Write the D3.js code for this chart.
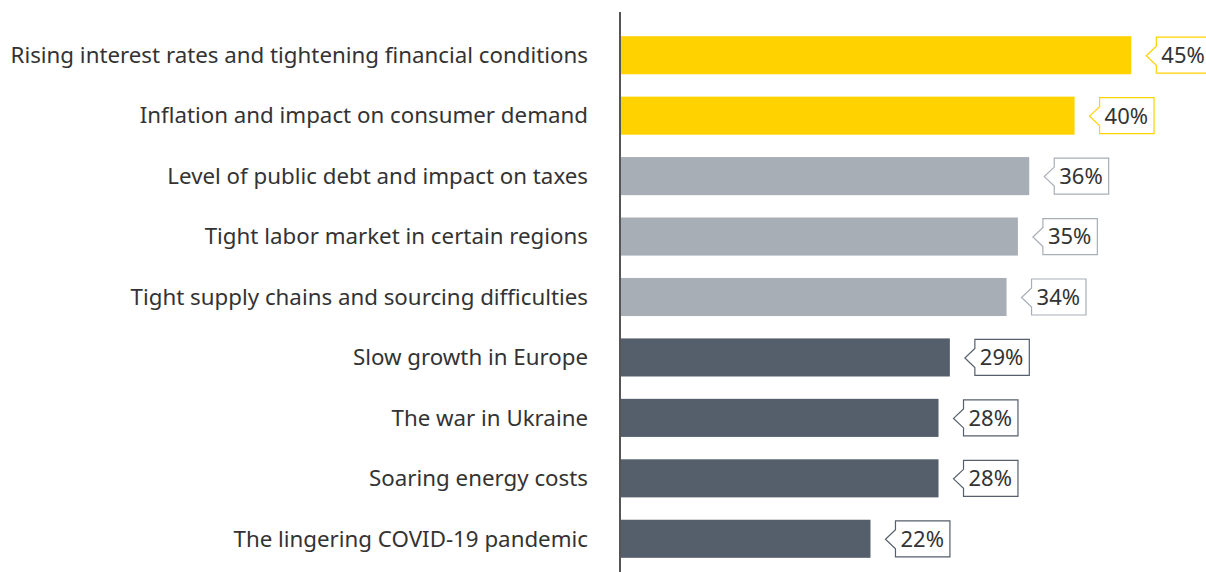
<!DOCTYPE html>
<html>
<head>
<meta charset="utf-8">
<script src="https://cdn.jsdelivr.net/npm/d3@7"></script>
<style>
  body { margin: 0; background: #fff; }
  svg { display: block; }
</style>
</head>
<body>
<div id="wrapper"></div>
<script>
const categories = [
    "Rising interest rates and tightening financial conditions",
    "Inflation and impact on consumer demand",
    "Level of public debt and impact on taxes",
    "Tight labor market in certain regions",
    "Tight supply chains and sourcing difficulties",
    "Slow growth in Europe",
    "The war in Ukraine",
    "Soaring energy costs",
    "The lingering COVID-19 pandemic"
]
const values = [45, 40, 36, 35, 34, 29, 28, 28, 22]
const groups = ["top", "top", "mid", "mid", "mid", "low", "low", "low", "low"]

const colors = { top: "#FFD200", mid: "#A8AEB5", low: "#555F6B" }

function drawBars() {
    const dimensions = {
        width: 1206,
        height: 572,
        margin: { top: 25, right: 0, bottom: 3, left: 621 },
    }
    dimensions.boundedWidth = dimensions.width - dimensions.margin.left - dimensions.margin.right
    dimensions.boundedHeight = dimensions.height - dimensions.margin.top - dimensions.margin.bottom

    const svg = d3.select("#wrapper")
        .append("svg")
        .attr("width", dimensions.width)
        .attr("height", dimensions.height)

    const bounds = svg.append("g")
        .attr("transform", `translate(${dimensions.margin.left},${dimensions.margin.top})`)

    const xScaler = d3.scaleLinear()
        .domain([0, 51.5])
        .range([0, 584])

    const yScaler = d3.scaleBand()
        .domain(categories)
        .range([0, dimensions.boundedHeight])
        .paddingInner(0.37)
        .paddingOuter(0.185)

    const data = categories.map((c, i) => ({ cat: c, value: values[i], group: groups[i] }))

    bounds.selectAll("rect.bar")
        .data(data)
        .join("rect")
        .attr("class", "bar")
        .attr("x", 0)
        .attr("y", d => yScaler(d.cat))
        .attr("width", d => xScaler(d.value))
        .attr("height", yScaler.bandwidth())
        .attr("fill", d => colors[d.group])

    // category labels
    bounds.selectAll("text.cat")
        .data(data)
        .join("text")
        .attr("class", "cat")
        .attr("x", -33)
        .attr("y", d => yScaler(d.cat) + yScaler.bandwidth() / 2)
        .attr("dy", "0.35em")
        .attr("text-anchor", "end")
        .attr("font-family", "'Noto Sans', sans-serif")
        .attr("font-size", "22.3px")
        .attr("fill", "#333")
        .text(d => d.cat)

    // value callouts
    const callouts = bounds.selectAll("g.callout")
        .data(data)
        .join("g")
        .attr("class", "callout")
        .attr("transform", d => `translate(${xScaler(d.value) + 25},${yScaler(d.cat) + yScaler.bandwidth() / 2})`)

    callouts.append("text")
        .attr("x", 5)
        .attr("dy", "0.36em")
        .attr("font-family", "'Noto Sans', sans-serif")
        .attr("font-size", "22px")
        .attr("fill", "#333")
        .text(d => d.value + "%")

    callouts.insert("path", "text")
        .attr("d", function() {
            const w = this.parentNode.querySelector("text").getComputedTextLength() + 11
            const h = 18
            return `M0,${-h} L${w},${-h} L${w},${h} L0,${h} L0,10 L-10,0.5 L0,-9 Z`
        })
        .attr("fill", "#fff")
        .attr("stroke", d => colors[d.group])
        .attr("stroke-width", 1.2)

    // axis line
    svg.append("line")
        .attr("x1", 620)
        .attr("x2", 620)
        .attr("y1", 12)
        .attr("y2", 572)
        .attr("stroke", "#555")
        .attr("stroke-width", 2)
}

drawBars()
</script>
</body>
</html>
